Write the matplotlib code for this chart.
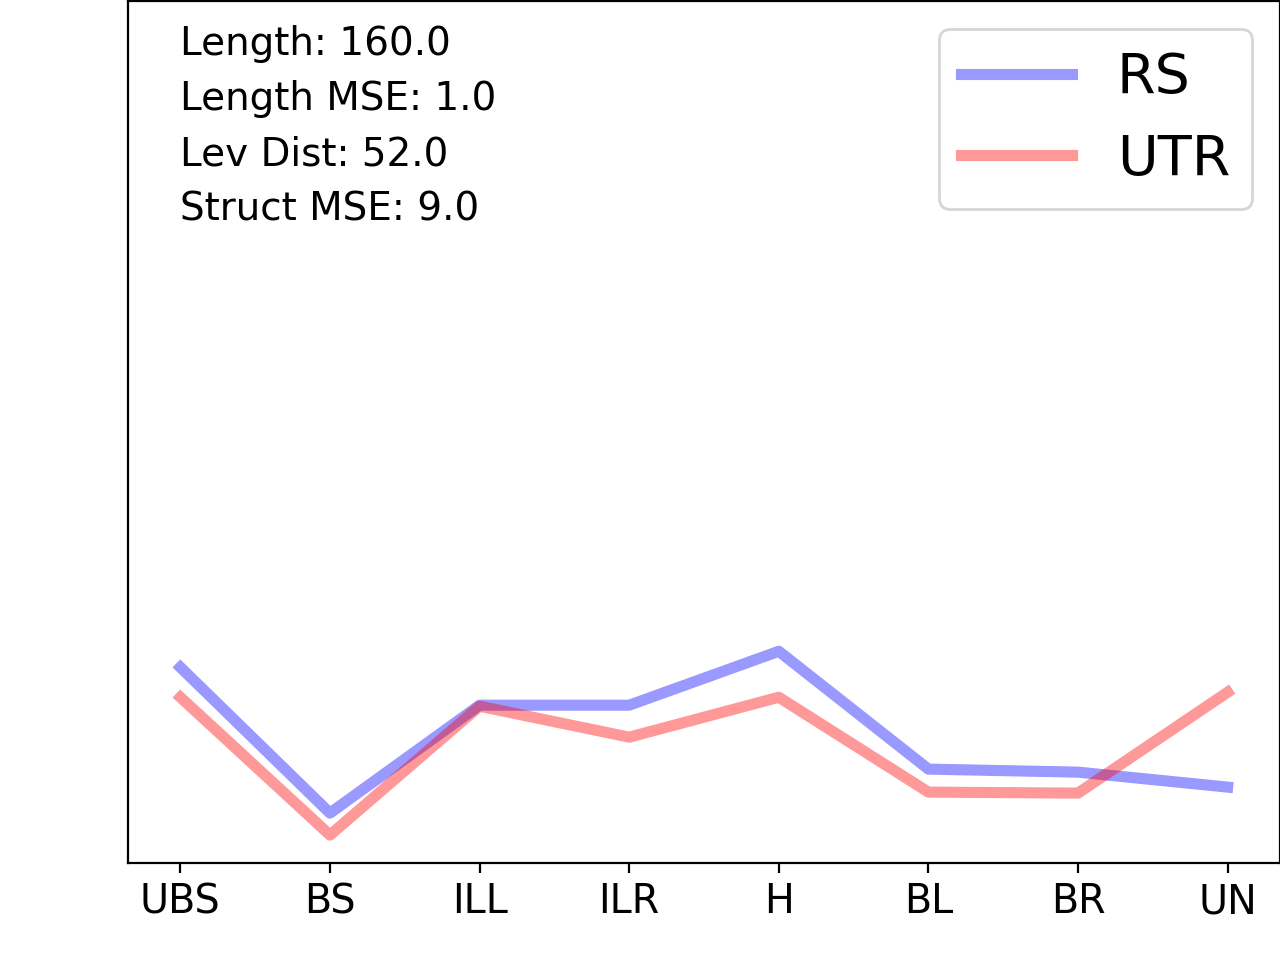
import matplotlib
matplotlib.use("Agg")
import matplotlib.pyplot as plt
import matplotlib.transforms as mtransforms

categories = ["UBS", "BS", "ILL", "ILR", "H", "BL", "BR", "UN"]
rs_values = [196, 50, 158, 158, 212, 94, 91, 76]
utr_values = [166, 28, 157, 126, 166, 71, 70, 171]
info_lines = ["Length: 160.0", "Length MSE: 1.0", "Lev Dist: 52.0", "Struct MSE: 9.0"]

fig = plt.figure(figsize=(6.4, 4.8), dpi=200)
ax = fig.add_axes([0.1, 0.101, 0.9, 0.898])
x = list(range(len(categories)))
ax.plot(x, rs_values, color="blue", alpha=0.4, lw=4, label="RS")
ax.plot(x, utr_values, color="red", alpha=0.4, lw=4, label="UTR")
ax.set_ylim(0, 863)
ax.set_xticks(x)
ax.set_xticklabels(categories, fontsize=14.25)
ax.set_yticks([])
ax.legend(loc="upper right", fontsize=20)

trans = mtransforms.blended_transform_factory(ax.transData, ax.transAxes)
ys = [0.937, 0.873, 0.809, 0.745]
for t, yy in zip(info_lines, ys):
    ax.text(0, yy, t, transform=trans, fontsize=14, va="baseline", ha="left")

fig.savefig("out.png", dpi=200)
